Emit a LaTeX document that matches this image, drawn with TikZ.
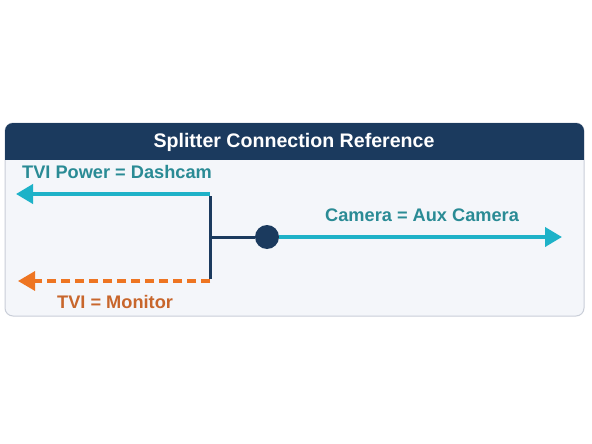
\documentclass[tikz,border=0pt]{standalone}
\usepackage{fontspec}
\setmainfont{Liberation Sans}
\usetikzlibrary{arrows.meta}
\definecolor{navy}{HTML}{1B3A5E}
\definecolor{teal1}{HTML}{1EB2C8}
\definecolor{tealtxt}{HTML}{2A8B95}
\definecolor{orng}{HTML}{EE7522}
\definecolor{orngtxt}{HTML}{C8662C}
\definecolor{boxfill}{HTML}{F4F6FA}
\definecolor{boxline}{HTML}{C9CED8}
\tikzset{
  lbl/.style={font=\bfseries\fontsize{18.2}{21}\selectfont, inner sep=0pt},
  tealarrow/.style={draw=teal1, line width=4pt, -{Triangle[length=17pt,width=19pt]}},
  orngarrow/.style={draw=orng, line width=3.2pt, dash pattern=on 9pt off 5pt, -{Triangle[length=17pt,width=19pt]}},
  navyline/.style={draw=navy, line width=3pt}
}
\begin{document}
\begin{tikzpicture}[x=1pt,y=-1pt]
\useasboundingbox[fill=white] (0,0) rectangle (592,444);
% box
\draw[boxline, fill=boxfill, line width=1pt, rounded corners=8pt] (5,123) rectangle (584,316);
\begin{scope}
\clip[rounded corners=8pt] (5,123) rectangle (584,316);
\fill[navy] (5,123) rectangle (584,160);
\end{scope}
\node[font=\bfseries\fontsize{19.6}{22}\selectfont, text=white] (title) at (294,142) {Splitter Connection Reference};
% junction
\coordinate (jt) at (210,194);
\coordinate (jb) at (210,281);
\coordinate (jm) at (210,237);
\coordinate (lt) at (16,194);
\coordinate (lb) at (18,281);
\coordinate (rr) at (562,237);
\node[circle, fill=navy, minimum size=24pt, inner sep=0pt] (hub) at (267,237) {};
\draw[tealarrow] (jt) -- (lt);
\draw[orngarrow] (jb) -- (lb);
\draw[navyline, line cap=butt] ([yshift=-2pt]jt) -- ([yshift=1.6pt]jb);
\draw[navyline] (jm) -- (hub.west);
\draw[tealarrow] (hub.east) -- (rr);
% labels
\node[lbl, text=tealtxt, anchor=west] (l1) at (22,172) {TVI Power = Dashcam};
\node[lbl, text=orngtxt, anchor=west] (l2) at (57,302) {TVI = Monitor};
\node[lbl, text=tealtxt, anchor=west] (l3) at (325,215) {Camera = Aux Camera};
\end{tikzpicture}
\end{document}
